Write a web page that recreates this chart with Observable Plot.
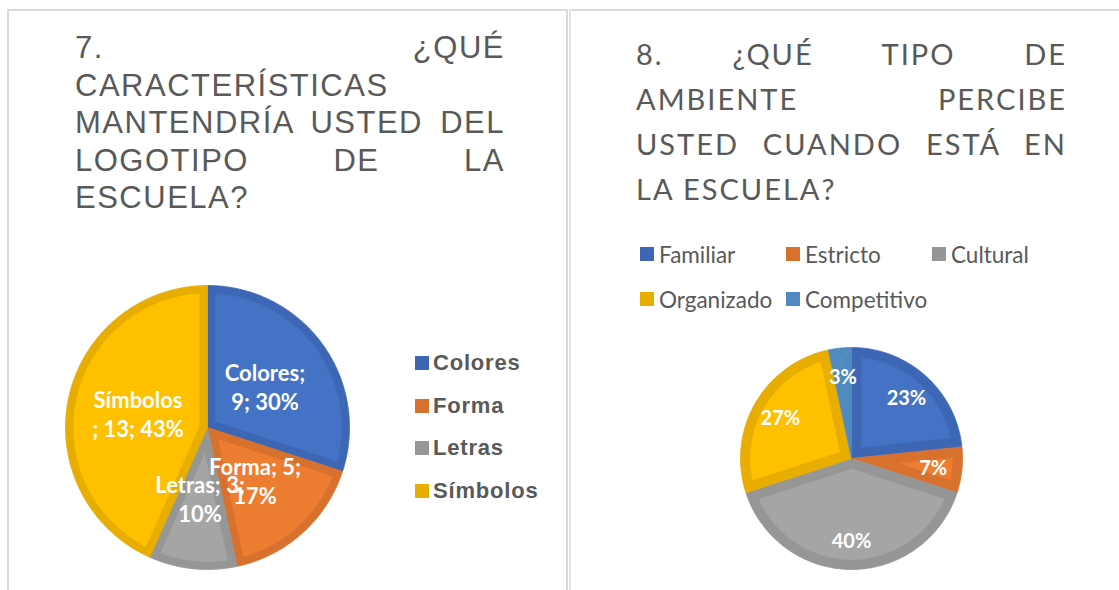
<!DOCTYPE html>
<html><head><meta charset="utf-8">
<script src="https://cdn.jsdelivr.net/npm/d3@7"></script>
<script src="https://cdn.jsdelivr.net/npm/@observablehq/plot@0.6"></script>
<style>
body{margin:0;background:#fff;}
#root{position:relative;width:1119px;height:590px;overflow:hidden;background:#fff;}
.abs{position:absolute;}
.line{background:#dadada;}
.title1{font-family:"Liberation Sans",Arial,sans-serif;font-size:31px;line-height:37.5px;color:#595959;letter-spacing:1.5px;}
.title2{font-family:Lato,"Open Sans",sans-serif;font-size:29px;line-height:45px;color:#595959;letter-spacing:2px;}
.j{text-align:justify;text-align-last:justify;}
.l{text-align:left;text-align-last:left;}
.leg1{font-family:"Liberation Sans",Arial,sans-serif;font-weight:bold;font-size:22px;color:#595959;letter-spacing:0.8px;display:flex;align-items:center;height:30px;}
.leg2{font-family:Lato,"Open Sans",sans-serif;font-size:22.5px;color:#595959;display:flex;align-items:center;height:30px;}
.sw{display:inline-block;width:14px;height:14px;margin-right:5px;}
</style>
</head><body>
<div id="root"></div>
<script>
// ---- data ----
const cats1 = ["Colores", "Forma", "Letras", "Símbolos"];
const vals1 = [9, 5, 3, 13];
const labels1 = ["Colores;\n9; 30%", "Forma; 5;\n17%", "Letras; 3;\n10%", "Símbolos\n; 13; 43%"];
const fills1 = ["#4472C4", "#ED7D31", "#A5A5A5", "#FFC000"];
const edges1 = ["#3D67B5", "#D8712D", "#969696", "#E7AD00"];

const cats2 = ["Familiar", "Estricto", "Cultural", "Organizado", "Competitivo"];
const vals2 = [7, 2, 12, 8, 1];
const labels2 = ["23%", "7%", "40%", "27%", "3%"];
const fills2 = ["#4472C4", "#ED7D31", "#A5A5A5", "#FFC000", "#5B9BD5"];
const edges2 = ["#3D67B5", "#D8712D", "#969696", "#E7AD00", "#508AC0"];

const title1Lines = ["7. ¿QUÉ", "CARACTERÍSTICAS", "MANTENDRÍA USTED DEL", "LOGOTIPO DE LA", "ESCUELA?"];
const title2Lines = ["8. ¿QUÉ TIPO DE", "AMBIENTE PERCIBE", "USTED CUANDO ESTÁ EN", "LA ESCUELA?"];

// ---- helpers ----
const root = document.getElementById("root");
function el(tag, cls, style, html) {
  const e = document.createElement(tag);
  if (cls) e.className = cls;
  if (style) e.setAttribute("style", style);
  if (html != null) e.textContent = html;
  root.appendChild(e);
  return e;
}

function pie(cats, vals, fills, edges, labels, R, insetPx, labelR, fontSize, lineHeight) {
  const tot = d3.sum(vals);
  let acc = 0;
  const sl = vals.map((v, i) => {
    const a0 = acc / tot * 2 * Math.PI; acc += v;
    return {i, a0, a1: acc / tot * 2 * Math.PI};
  });
  const outer = [], inner = [], lab = [];
  const w = insetPx / R;
  sl.forEach(s => {
    const n = Math.max(4, Math.ceil((s.a1 - s.a0) / 0.01));
    outer.push({k: s.i, x: 0, y: 0, c: edges[s.i]});
    for (let j = 0; j <= n; j++) {
      const a = s.a0 + (s.a1 - s.a0) * j / n;
      outer.push({k: s.i, x: Math.sin(a), y: Math.cos(a), c: edges[s.i]});
    }
    outer.push({k: s.i, x: 0, y: 0, c: edges[s.i]});
    const half = (s.a1 - s.a0) / 2, mid = (s.a0 + s.a1) / 2;
    const d = w / Math.sin(half);
    const rr = 1 - w, da = Math.asin(w / rr);
    const b0 = s.a0 + da, b1 = s.a1 - da;
    if (b1 > b0 && d < rr) {
      inner.push({k: s.i, x: Math.sin(mid) * d, y: Math.cos(mid) * d, c: fills[s.i]});
      for (let j = 0; j <= n; j++) {
        const a = b0 + (b1 - b0) * j / n;
        inner.push({k: s.i, x: Math.sin(a) * rr, y: Math.cos(a) * rr, c: fills[s.i]});
      }
    }
    lab.push({x: Math.sin(mid) * labelR, y: Math.cos(mid) * labelR, t: labels[s.i]});
  });
  return Plot.plot({
    width: 2 * R, height: 2 * R, margin: 0,
    style: {background: "transparent", overflow: "visible"},
    x: {domain: [-1, 1], axis: null},
    y: {domain: [-1, 1], axis: null},
    color: {type: "identity"},
    marks: [
      Plot.line(outer, {x: "x", y: "y", z: "k", fill: "c", stroke: "c", strokeWidth: 0.8}),
      Plot.line(inner, {x: "x", y: "y", z: "k", fill: "c", stroke: "c", strokeWidth: 0.5}),
      Plot.text(lab, {x: "x", y: "y", text: "t", fill: "white", fontSize, fontWeight: "bold",
        fontFamily: "Lato, 'Open Sans', sans-serif", lineHeight})
    ]
  });
}

// ---- frame lines ----
el("div", "abs line", "left:7px;top:9px;width:560px;height:2px;");
el("div", "abs line", "left:7px;top:9px;width:2px;height:581px;");
el("div", "abs line", "left:566px;top:9px;width:2px;height:581px;");
el("div", "abs line", "left:569px;top:9px;width:550px;height:2px;");
el("div", "abs line", "left:569px;top:9px;width:2px;height:581px;background:#e4e4e4;");

// ---- titles ----
const t1 = el("div", "abs title1", "left:75px;top:29px;width:430px;");
title1Lines.forEach((s, i) => {
  const d = document.createElement("div");
  d.className = (i === 1 || i === title1Lines.length - 1) ? "l" : "j";
  d.textContent = s; t1.appendChild(d);
});
const t2 = el("div", "abs title2", "left:636px;top:31px;width:431px;");
title2Lines.forEach((s, i) => {
  const d = document.createElement("div");
  d.className = (i === title2Lines.length - 1) ? "l" : "j";
  d.textContent = s; t2.appendChild(d);
});

// ---- pies ----
const p1 = el("div", "abs", "left:65px;top:285px;width:284px;height:284px;");
p1.appendChild(pie(cats1, vals1, fills1, edges1, labels1, 142, 8, 0.5, 22, 1.32));
const p2 = el("div", "abs", "left:740px;top:347px;width:222px;height:222px;");
p2.appendChild(pie(cats2, vals2, fills2, edges2, labels2, 111, 10, 0.74, 20, 1.2));

// ---- legends ----
cats1.forEach((c, i) => {
  const row = el("div", "abs leg1", `left:415px;top:${348 + i * 42.5}px;`);
  const sw = document.createElement("span"); sw.className = "sw";
  sw.style.background = edges1[i]; sw.style.marginRight = "4px";
  row.appendChild(sw); row.appendChild(document.createTextNode(c));
});
cats2.forEach((c, i) => {
  const col = i % 3, r = Math.floor(i / 3);
  const row = el("div", "abs leg2", `left:${640 + col * 146}px;top:${239 + r * 45}px;`);
  const sw = document.createElement("span"); sw.className = "sw";
  sw.style.background = edges2[i];
  row.appendChild(sw); row.appendChild(document.createTextNode(c));
});
</script>
</body></html>
